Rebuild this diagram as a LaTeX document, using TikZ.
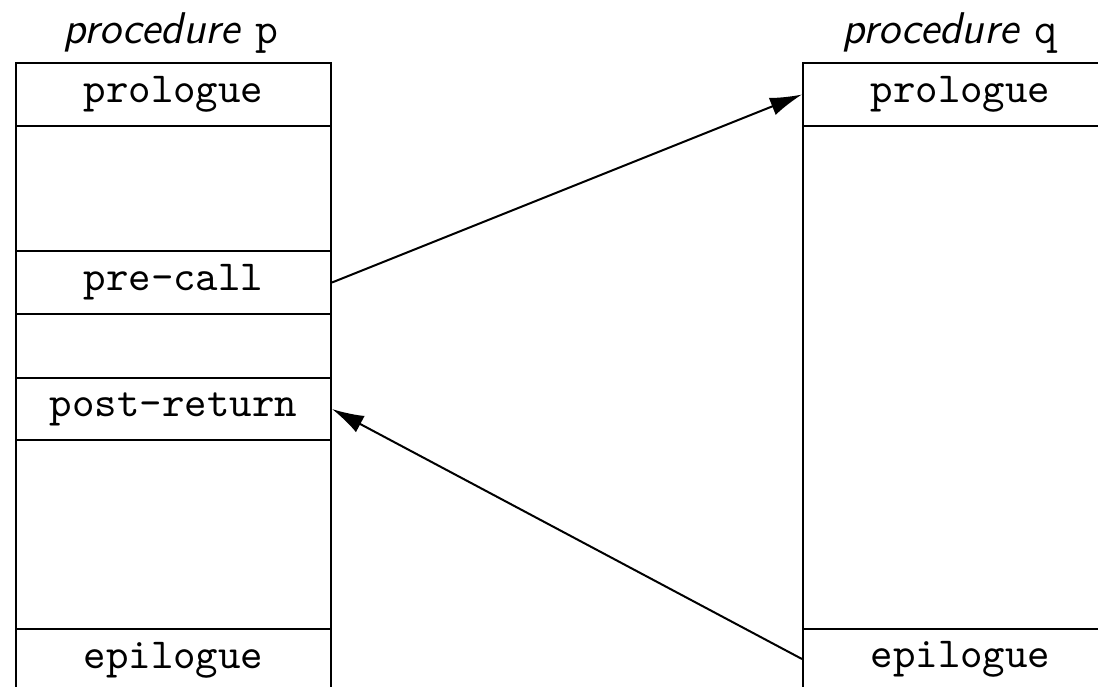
\documentclass[tikz,border=0pt]{standalone}
\usetikzlibrary{arrows.meta}
\begin{document}
\begin{tikzpicture}[x=0.25pt,y=-0.25pt,
  cell/.style={draw,line width=0.5pt,rectangle,inner sep=0pt,anchor=north west,
    minimum width=78.75pt,font=\fontsize{10.7}{12}\selectfont\ttfamily},
  ttl/.style={font=\fontsize{11.1}{13}\selectfont,anchor=base},
  conn/.style={line width=0.5pt,-{Latex[length=8pt,width=4.6pt]}}]
\useasboundingbox (0,0) rectangle (1098,686);
\clip (0,0) rectangle (1098,686);
% procedure p
\node[ttl] (tp) at (171,43) {\textsf{\textit{procedure}} \texttt{p}};
\node[cell,minimum height=15.75pt] (pprol) at (15,62) {prologue};
\node[cell,minimum height=31.25pt] (pbodya) at (15,125) {};
\node[cell,minimum height=15.75pt] (precall) at (15,250) {pre-call};
\node[cell,minimum height=16pt] (pgap) at (15,313) {};
\node[cell,minimum height=15.5pt] (postret) at (15,377) {post-return};
\node[cell,minimum height=47.25pt] (pbodyb) at (15,439) {};
\node[cell,minimum height=15.75pt] (pepi) at (15,628) {epilogue};
% procedure q
\node[ttl] (tq) at (950,43) {\textsf{\textit{procedure}} \texttt{q}};
\node[cell,minimum height=15.75pt] (qprol) at (802,62) {prologue};
\node[cell,minimum height=125.75pt] (qbody) at (802,125) {};
\node[cell,minimum height=15pt] (qepi) at (802,628) {epilogue};
% connectors
\draw[conn] (precall.east) -- (qprol.west);
\draw[conn] (qepi.west) -- (postret.east);
\end{tikzpicture}
\end{document}
